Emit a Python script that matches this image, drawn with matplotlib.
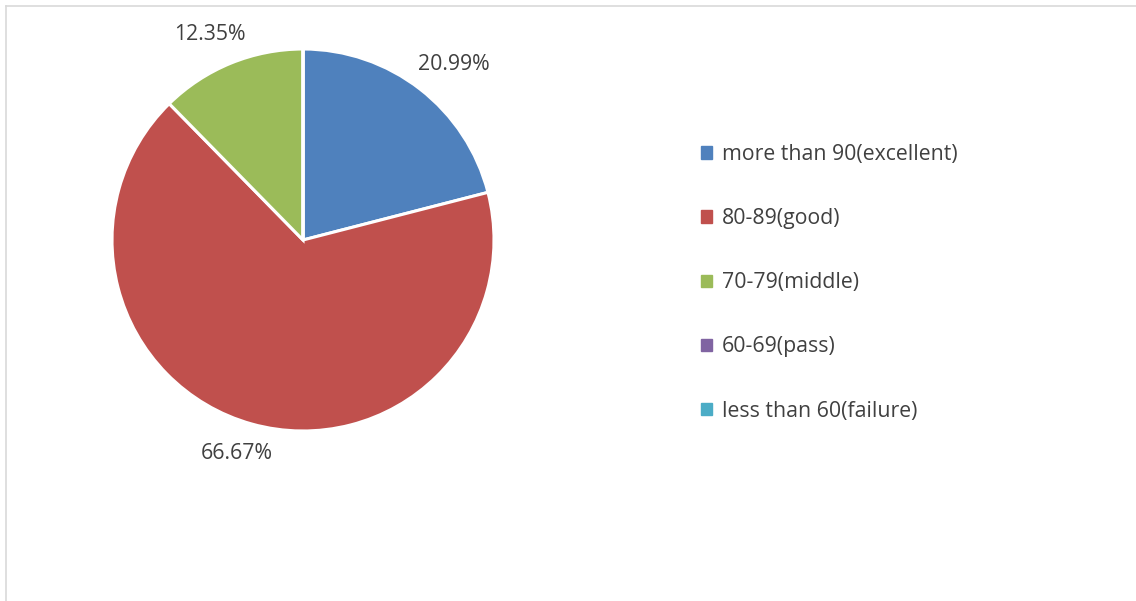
import numpy as np
import matplotlib
matplotlib.use('Agg')
import matplotlib.pyplot as plt
from matplotlib.lines import Line2D

plt.rcParams['font.family'] = ['Open Sans', 'DejaVu Sans']

# data
categories = ['more than 90(excellent)', '80-89(good)', '70-79(middle)',
              '60-69(pass)', 'less than 60(failure)']
values = [20.99, 66.67, 12.35, 0, 0]
colors = ['#4F81BD', '#C0504D', '#9BBB59', '#8064A2', '#4BACC6']
text_col = '#404040'

W, H = 1136, 601
fig = plt.figure(figsize=(W / 100, H / 100), dpi=100)

# light frame round the chart area
fig.add_artist(Line2D([6 / W, 6 / W], [0, 1 - 6 / H], color='#d9d9d9', lw=1.2,
                      transform=fig.transFigure))
fig.add_artist(Line2D([6 / W, 1], [1 - 6 / H, 1 - 6 / H], color='#d9d9d9', lw=1.2,
                      transform=fig.transFigure))

cx, cy, r = 303, 240, 191
ax = fig.add_axes([(cx - r) / W, 1 - (cy + r) / H, 2 * r / W, 2 * r / H])
wedges, _ = ax.pie(values, colors=colors, startangle=90, counterclock=False,
                   wedgeprops=dict(edgecolor='white', linewidth=2.2))
ax.set_xlim(-1, 1)
ax.set_ylim(-1, 1)
ax.set_aspect('equal')
ax.axis('off')

# outside-end data labels: box pushed out from a point just past the rim
for w, v in zip(wedges, values):
    if v == 0:
        continue
    ang = np.deg2rad((w.theta1 + w.theta2) / 2)
    c, s = np.cos(ang), np.sin(ang)
    ax.annotate('%.2f%%' % v, xy=(1.1 * c, 1.1 * s),
                xytext=(36 * c, 12 * s), textcoords='offset pixels',
                ha='center', va='center', fontsize=15.3, color=text_col,
                annotation_clip=False)

handles = [plt.Rectangle((0, 0), 1, 1, color=c) for c in colors]
fig.legend(handles, categories, loc='upper left',
           bbox_to_anchor=(701 / W, 1 - 144 / H), frameon=False,
           fontsize=15.3, labelcolor=text_col, handlelength=0.52,
           handleheight=0.52, handletextpad=0.47, labelspacing=2.03,
           borderpad=0, borderaxespad=0)

fig.savefig('out.png', dpi=100)
